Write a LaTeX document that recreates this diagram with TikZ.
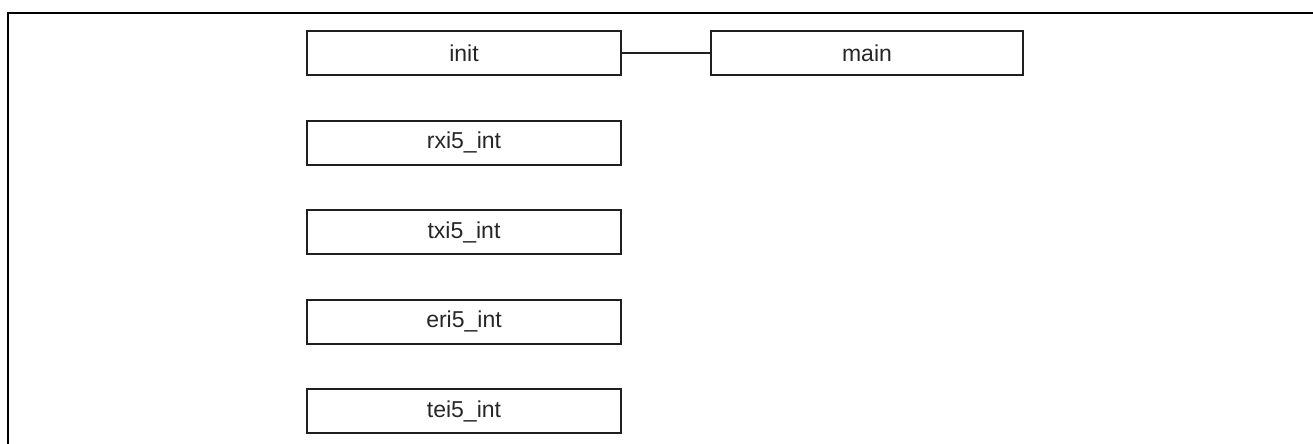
\documentclass[tikz,border=0pt]{standalone}
\usepackage{fontspec}
\setmainfont{Liberation Sans}
\usetikzlibrary{positioning}

\tikzset{
  func/.style={draw=black!88,line width=1pt,minimum width=157pt,minimum height=22pt,
               inner sep=0pt,font=\fontsize{11.5}{13}\selectfont,text=black!85},
  link/.style={draw=black!88,line width=0.8pt}
}

\begin{document}
\begin{tikzpicture}[x=0.5pt,y=-0.5pt,node distance=21.8pt]
  \useasboundingbox (0,0) rectangle (1313,444);

  % frame
  \draw[line width=1pt] (7.5,444) -- (7.5,13) -- (1313,13);

  \node[func] (init)                         at (464,53) {init};
  \node[func,minimum width=156pt] (main) [right=44pt of init] {main};
  \node[func] (rxi5)  [below=of init]                   {rxi5\_int};
  \node[func] (txi5)  [below=of rxi5]                   {txi5\_int};
  \node[func] (eri5)  [below=of txi5]                   {eri5\_int};
  \node[func] (tei5)  [below=of eri5]                   {tei5\_int};

  \path[link] (init) edge (main);
\end{tikzpicture}
\end{document}
